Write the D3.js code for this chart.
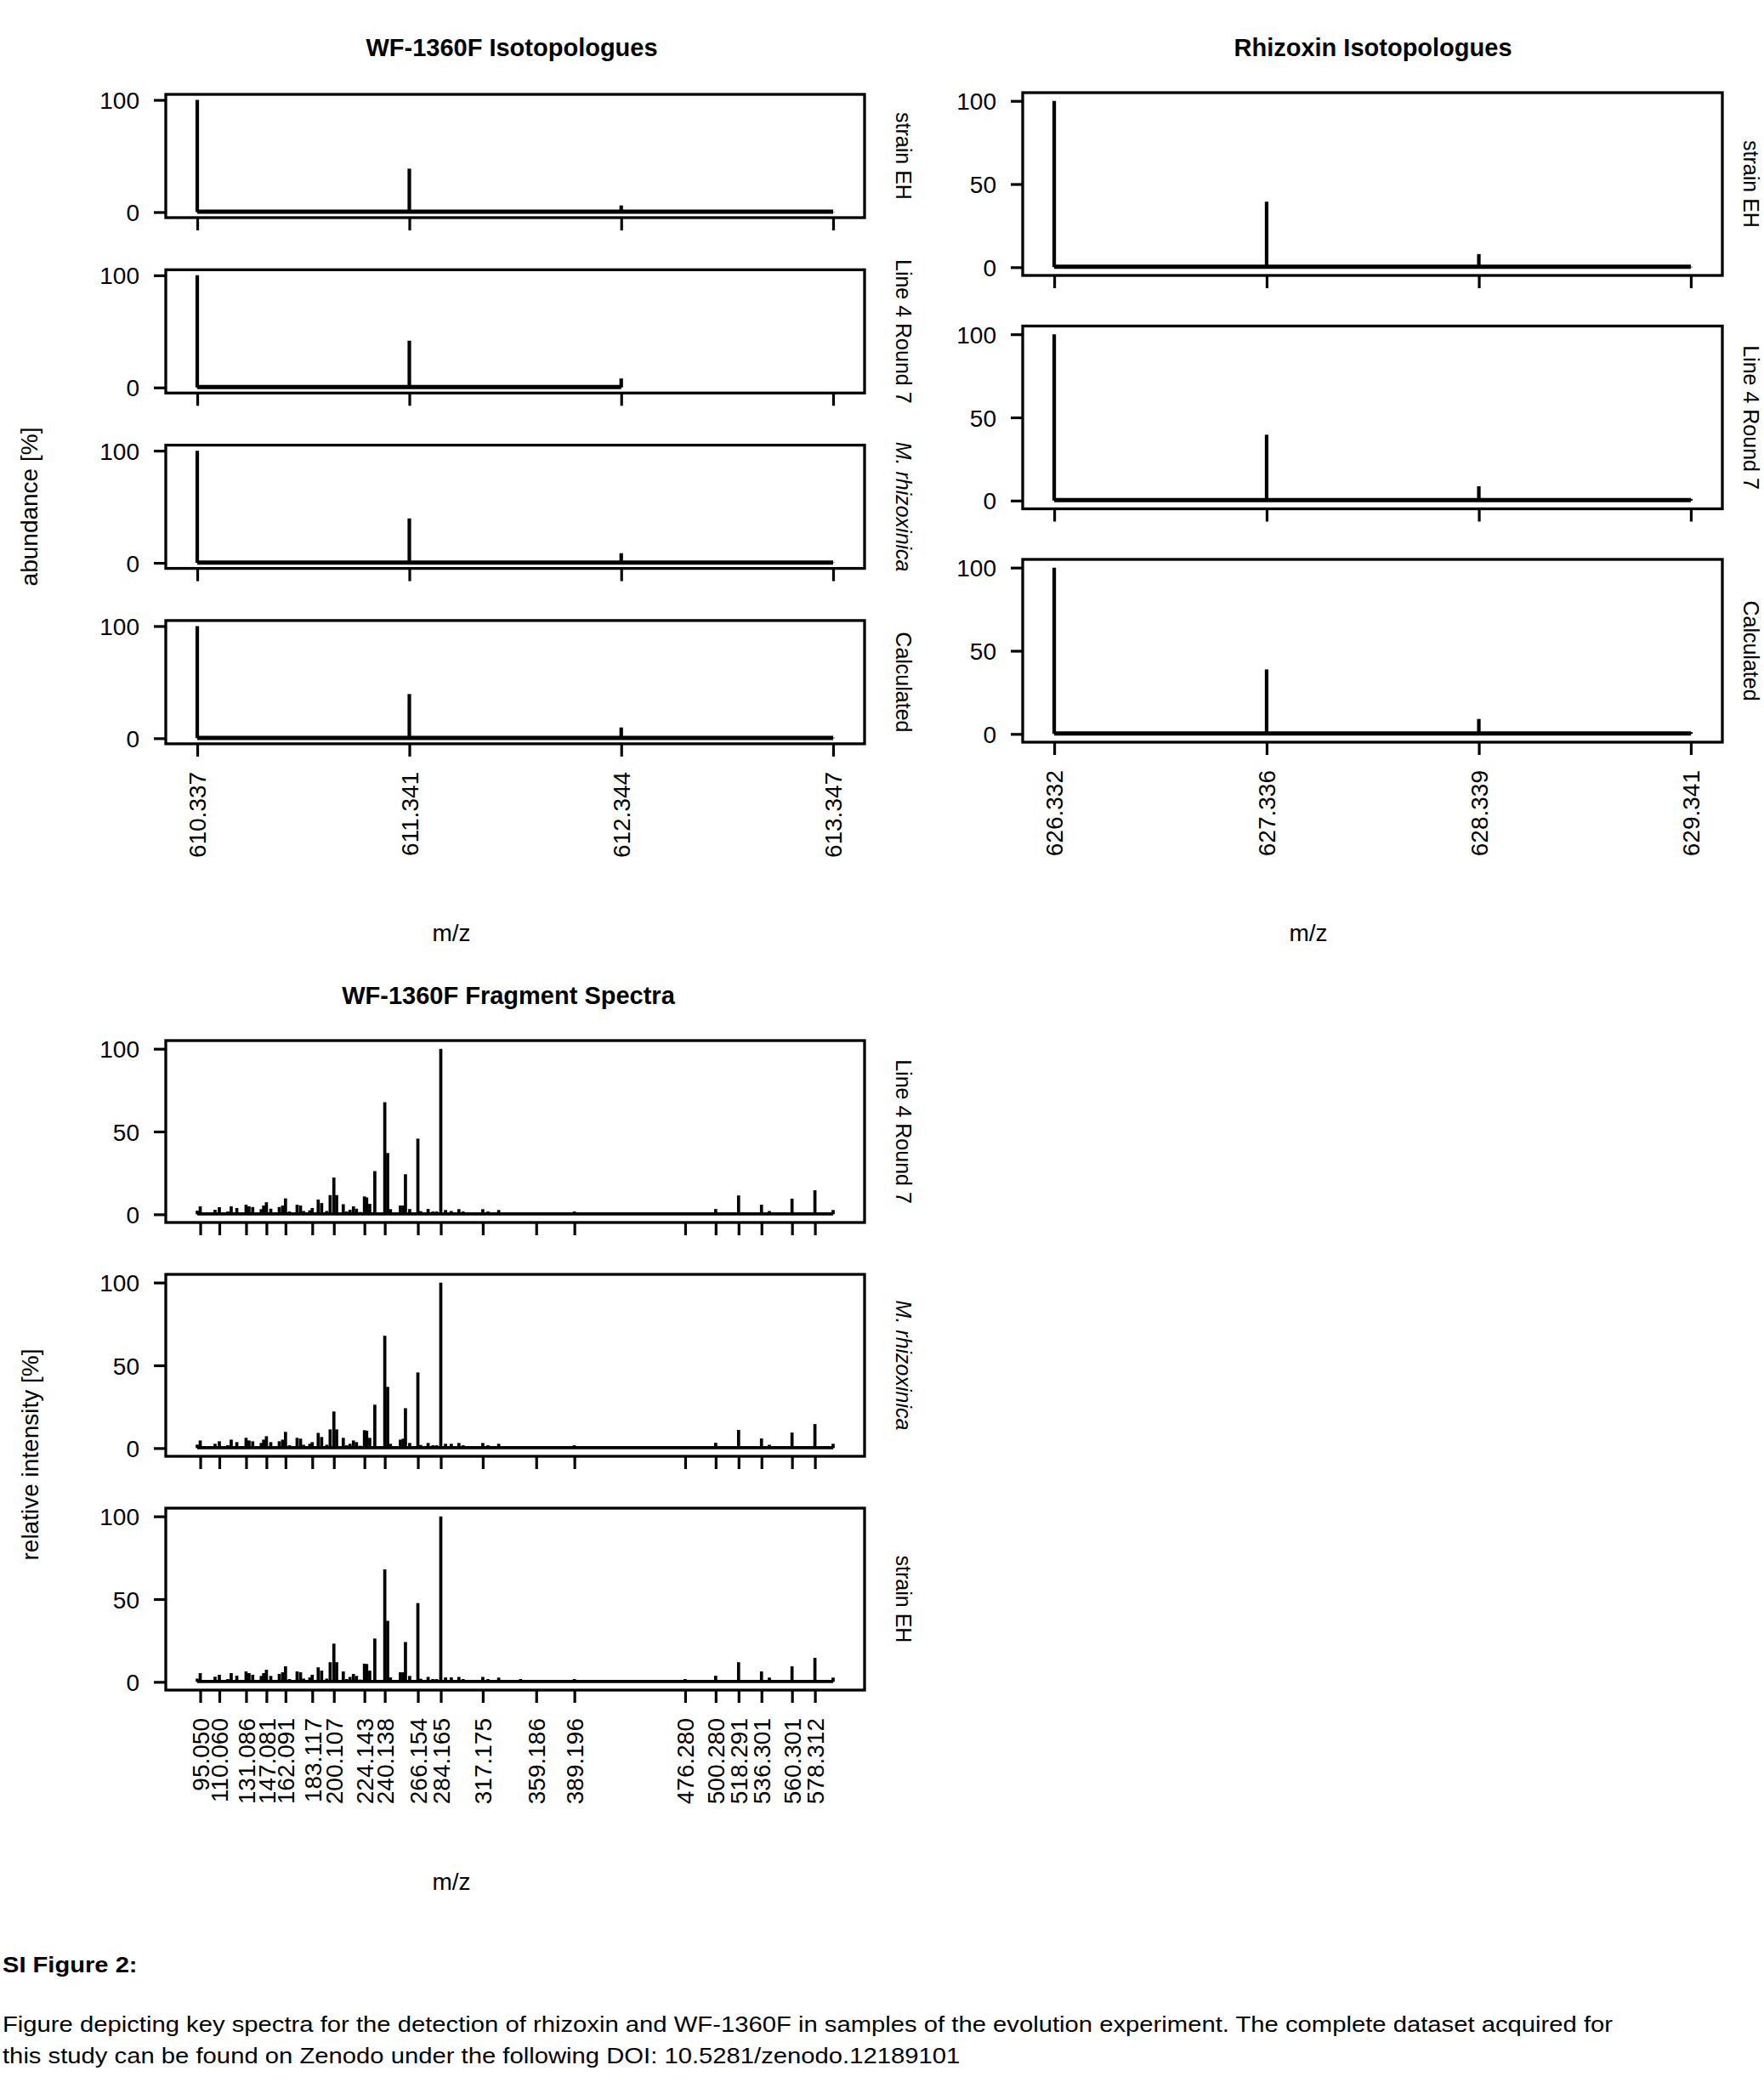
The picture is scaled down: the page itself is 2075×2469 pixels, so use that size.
<!DOCTYPE html>
<html>
<head>
<meta charset="utf-8">
<script src="https://cdn.jsdelivr.net/npm/d3@7"></script>
<style>
  body { margin: 0; background: #fff; }
  svg text { font-family: "Liberation Sans", Arial, sans-serif; fill: #000; }
</style>
</head>
<body>
<div id="main"></div>
<script>
const W = 2075;
const H = 2469;

// WF-1360F isotopologues
const wfMz = [610.337, 611.341, 612.344, 613.347];
const wfSamples = ['strain EH', 'Line 4 Round 7', 'M. rhizoxinica', 'Calculated'];
const wfStrainEH = [100, 38.7, 5.9, 0.3];
const wfLine4 = [100, 41.7, 8.0];
const wfMrhiz = [100, 39.6, 8.6, 0.4];
const wfCalc = [100, 39.4, 9.6, 0.6];

// rhizoxin isotopologues
const rhzMz = [626.332, 627.336, 628.339, 629.341];
const rhzSamples = ['strain EH', 'Line 4 Round 7', 'Calculated'];
const rhzStrainEH = [100, 39.4, 7.9, 0.3];
const rhzLine4 = [100, 39.6, 8.6, 1.0];
const rhzCalc = [100, 38.8, 9.0, 1.1];

// WF-1360F fragment spectra
const fragSamples = ['Line 4 Round 7', 'M. rhizoxinica', 'strain EH'];
const fragTicks = [95.050, 110.060, 131.086, 147.081, 162.091, 183.117, 200.107, 224.143, 240.138,
  266.154, 284.165, 317.175, 359.186, 389.196, 476.280, 500.280, 518.291, 536.301, 560.301, 578.312];
const fragMz = [92.7, 95.05, 106.7, 110.06, 116.7, 119.4, 123.8, 131.086, 133.4, 136.3,
  143.0, 144.9, 147.081, 150.5, 157.2, 159.8, 162.091, 165.2, 171.2, 173.9,
  176.3, 181.2, 183.117, 187.8, 190.5, 194.5, 197.2, 200.107, 202.3, 207.5,
  210.1, 212.8, 215.5, 217.9, 220.8, 224.143, 225.9, 228.3, 232.3, 240.138,
  242.4, 244.6, 252.4, 254.6, 256.4, 259.7, 266.154, 268.4, 274.2, 277.9,
  280.8, 284.165, 287.9, 292.4, 298.4, 301.7, 317.175, 321.3, 329.7, 346.9,
  359.186, 389.196, 476.280, 500.280, 518.291, 536.301, 542.5, 560.301, 578.312, 592.6];
const fragLine4 = [2.2, 4.8, 2.7, 4.3, 1.7, 4.8, 3.8, 5.8, 4.8, 4.4,
  3.1, 5.3, 7.3, 3.4, 4.4, 5.3, 9.6, 1.7, 5.8, 5.3,
  2.0, 2.4, 3.8, 8.9, 6.8, 2.0, 11.6, 22.2, 11.6, 6.1,
  1.7, 2.7, 4.8, 3.4, 1.4, 10.8, 10.2, 6.3, 26.1, 67.7,
  37.0, 3.1, 5.3, 5.3, 24.2, 3.2, 45.7, 1.9, 3.2, 1.7,
  1.7, 100, 2.6, 2.0, 3.1, 1.7, 3.1, 1.7, 2.6, 0.5,
  0.5, 1.7, 0.5, 3.2, 11.4, 5.8, 2.0, 9.4, 14.5, 2.6];
const fragMrhiz = [2.1, 4.6, 2.6, 4.1, 1.7, 5.1, 3.6, 6.2, 4.6, 4.1,
  3.1, 5.1, 7.2, 3.6, 4.1, 5.1, 9.8, 1.7, 6.2, 5.7,
  2.0, 2.6, 3.6, 9.2, 6.7, 2.0, 11.3, 22.1, 11.3, 6.2,
  1.7, 2.6, 4.6, 3.6, 1.4, 10.8, 10.5, 6.2, 26.2, 67.8,
  37.0, 2.6, 5.1, 5.7, 24.1, 3.1, 45.7, 1.9, 3.1, 1.7,
  1.7, 100, 2.6, 2.6, 3.1, 1.7, 3.1, 1.7, 2.6, 0.8,
  0.5, 1.7, 1.0, 3.2, 11.0, 5.8, 2.0, 9.4, 14.5, 2.6];
const fragStrainEH = [2.0, 5.3, 3.1, 4.3, 1.7, 5.3, 3.7, 6.3, 5.3, 4.3,
  3.6, 5.3, 7.3, 3.6, 4.8, 5.8, 9.4, 1.7, 6.3, 5.8,
  2.0, 2.7, 4.3, 8.8, 6.8, 2.0, 11.9, 23.1, 11.9, 6.3,
  1.7, 3.0, 4.8, 3.6, 1.4, 11.0, 10.8, 6.8, 26.2, 68.0,
  36.9, 2.7, 5.8, 5.8, 24.1, 3.6, 47.6, 1.9, 3.0, 1.7,
  1.7, 100, 2.7, 2.7, 3.0, 1.7, 3.0, 1.7, 2.6, 1.7,
  0.5, 1.7, 1.7, 3.7, 11.9, 6.3, 2.6, 9.4, 14.5, 2.6];

const captionLines = [
  'Figure depicting key spectra for the detection of rhizoxin and WF-1360F in samples of the evolution experiment. The complete dataset acquired for',
  'this study can be found on Zenodo under the following DOI: 10.5281/zenodo.12189101',
];

const svg = d3.select('#main')
  .append('svg')
  .attr('width', W)
  .attr('height', H)
  .style('background', '#fff');

const fmt = d3.format('.3f');
const PAD = 0.0495; // axis padding, R style

function padded(lo, hi) {
  const p = (hi - lo) * PAD;
  return [lo - p, hi + p];
}

// one framed spectrum panel
function drawPanel(o) {
  const g = svg.append('g');
  const bottom = o.top + o.height;
  const y = d3.scaleLinear().domain(padded(0, 100)).range([bottom, o.top]);
  const x = o.x;
  const pts = d3.zip(o.mz, o.vals);

  // baseline
  g.append('line')
    .attr('x1', x(pts[0][0]))
    .attr('x2', x(pts[pts.length - 1][0]))
    .attr('y1', y(0.3))
    .attr('y2', y(0.3))
    .attr('stroke', '#000')
    .attr('stroke-width', o.baseW);

  g.selectAll('.peak')
    .data(pts)
    .join('line')
    .attr('class', 'peak')
    .attr('x1', (d) => x(d[0]))
    .attr('x2', (d) => x(d[0]))
    .attr('y1', y(0))
    .attr('y2', (d) => y(d[1]))
    .attr('stroke', '#000')
    .attr('stroke-width', o.peakW);

  g.append('rect')
    .attr('x', x.range()[0])
    .attr('y', o.top)
    .attr('width', x.range()[1] - x.range()[0])
    .attr('height', o.height)
    .attr('fill', 'none')
    .attr('stroke', '#000')
    .attr('stroke-width', 3.3);

  // x ticks under every panel, labels only on the last one
  const xa = g.append('g')
    .attr('transform', `translate(0,${bottom + 1})`)
    .call(d3.axisBottom(x).tickValues(o.ticks).tickSize(14)
      .tickFormat(o.showLabels ? fmt : ''));
  xa.select('.domain').remove();
  xa.selectAll('line').attr('stroke-width', 3.2);
  xa.selectAll('text')
    .attr('transform', 'rotate(-90)')
    .attr('x', -32)
    .attr('y', 0)
    .attr('dy', '0.35em')
    .style('text-anchor', 'end')
    .style('font-size', '28px')
    .style('font-family', '"Liberation Sans", Arial, sans-serif');

  const ya = g.append('g')
    .attr('transform', `translate(${x.range()[0]},0)`)
    .call(d3.axisLeft(y).tickValues(o.yTicks).tickSize(14).tickPadding(17));
  ya.select('.domain').remove();
  ya.selectAll('line').attr('stroke-width', 3.2);
  ya.selectAll('text')
    .attr('dy', '0.36em')
    .style('font-size', '28px')
    .style('font-family', '"Liberation Sans", Arial, sans-serif');

  // strip label on the right
  g.append('text')
    .attr('transform', `translate(${o.stripX},${o.top + o.height / 2}) rotate(90)`)
    .attr('dy', '0.35em')
    .attr('text-anchor', 'middle')
    .style('font-size', '25px')
    .style('font-style', o.label.startsWith('M. ') ? 'italic' : 'normal')
    .text(o.label);
}

function title(txt, cx, by) {
  svg.append('text')
    .attr('x', cx)
    .attr('y', by)
    .attr('text-anchor', 'middle')
    .style('font-size', '29px')
    .style('font-weight', 'bold')
    .text(txt);
}

function plainText(txt, cx, by, rot) {
  svg.append('text')
    .attr('transform', `translate(${cx},${by})${rot ? ' rotate(-90)' : ''}`)
    .attr('dy', rot ? '0.35em' : 0)
    .attr('text-anchor', 'middle')
    .style('font-size', '28px')
    .text(txt);
}

// ---- WF-1360F isotopologues
const xWf = d3.scaleLinear().domain(padded(wfMz[0], wfMz[3])).range([195, 1017]);
const wfVals = [wfStrainEH, wfLine4, wfMrhiz, wfCalc];
wfSamples.forEach((s, i) => {
  drawPanel({
    x: xWf, top: 111 + i * 206.3, height: 145, mz: wfMz.slice(0, wfVals[i].length), vals: wfVals[i],
    ticks: wfMz, yTicks: [0, 100], showLabels: i === wfSamples.length - 1,
    label: s, stripX: 1063, peakW: 4.2, baseW: 5,
  });
});
title('WF-1360F Isotopologues', 602, 66);
plainText('abundance [%]', 34, 596, true);
plainText('m/z', 531, 1107, false);

// ---- rhizoxin isotopologues
const xRhz = d3.scaleLinear().domain(padded(rhzMz[0], rhzMz[3])).range([1203, 2026]);
const rhzVals = [rhzStrainEH, rhzLine4, rhzCalc];
rhzSamples.forEach((s, i) => {
  drawPanel({
    x: xRhz, top: 109 + i * 274.5, height: 215, mz: rhzMz, vals: rhzVals[i],
    ticks: rhzMz, yTicks: [0, 50, 100], showLabels: i === rhzSamples.length - 1,
    label: s, stripX: 2060, peakW: 4.2, baseW: 5,
  });
});
title('Rhizoxin Isotopologues', 1615, 66);
plainText('m/z', 1539, 1107, false);

// ---- fragment spectra
const xFrag = d3.scaleLinear()
  .domain(padded(fragMz[0], fragMz[fragMz.length - 1]))
  .range([195, 1017]);
const fragVals = [fragLine4, fragMrhiz, fragStrainEH];
fragSamples.forEach((s, i) => {
  drawPanel({
    x: xFrag, top: 1224 + i * 275, height: 214, mz: fragMz, vals: fragVals[i],
    ticks: fragTicks, yTicks: [0, 50, 100], showLabels: i === fragSamples.length - 1,
    label: s, stripX: 1063, peakW: 3.7, baseW: 3.8,
  });
});
title('WF-1360F Fragment Spectra', 598, 1181);
plainText('relative intensity [%]', 35, 1711, true);
plainText('m/z', 531, 2223, false);

// ---- caption
svg.append('text')
  .attr('transform', 'translate(3,2320) scale(1.12,1)')
  .style('font-size', '26px')
  .style('font-weight', 'bold')
  .text('SI Figure 2:');

svg.selectAll('.caption')
  .data(captionLines)
  .join('text')
  .attr('class', 'caption')
  .attr('transform', (d, i) => `translate(3,${2390 + i * 36.7}) scale(1.125,1)`)
  .style('font-size', '26px')
  .text((d) => d);
</script>
</body>
</html>
